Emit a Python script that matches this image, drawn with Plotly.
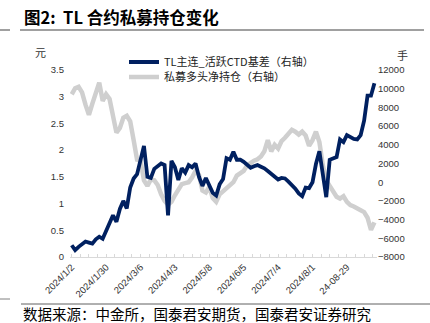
import numpy as np
import pandas as pd
import plotly.graph_objects as go

# ---- calendar (China futures trading days, 2024) ----
holidays = ["2024-02-09", "2024-02-12", "2024-02-13", "2024-02-14", "2024-02-15",
            "2024-02-16", "2024-04-04", "2024-04-05", "2024-05-01", "2024-05-02",
            "2024-05-03", "2024-06-10", "2024-09-16", "2024-09-17"]
trade_days = pd.bdate_range("2024-01-02", "2024-09-24", freq="C", holidays=holidays)
sample_days = trade_days[::2]          # one reading every 2 trading days

tick_dates = ["2024-01-02", "2024-01-30", "2024-03-06", "2024-04-03", "2024-05-08",
              "2024-06-05", "2024-07-04", "2024-08-01", "2024-08-29"]
tick_text = ["2024/1/2", "2024/1/30", "2024/3/6", "2024/4/3", "2024/5/8",
             "2024/6/5", "2024/7/4", "2024/8/1", "24-08-29"]

# ---- series ----
basis = [0.22, 0.13, 0.19, 0.25, 0.29, 0.27, 0.25, 0.33, 0.38, 0.34,
         0.50, 0.62, 0.78, 0.66, 0.90, 1.05, 0.91, 1.30, 1.47, 1.55,
         1.80, 2.08, 1.50, 1.48, 1.65, 1.71, 1.75, 1.72, 0.78, 1.80,
         1.68, 1.44, 1.66, 1.58, 1.72, 1.68, 1.75, 1.50, 1.33, 1.48,
         1.34, 1.20, 1.15, 1.36, 1.46, 1.85, 1.82, 1.97, 1.82, 1.82,
         1.78, 1.72, 1.67, 1.70, 1.72, 1.69, 1.66, 1.61, 1.55, 1.50,
         1.45, 1.48, 1.47, 1.41, 1.35, 1.28, 1.19, 1.14, 1.30, 1.29,
         1.40, 1.74, 1.98, 1.60, 1.12, 1.82, 1.85, 1.87, 2.20, 2.15,
         2.28, 2.25, 2.21, 2.20, 2.28, 2.55, 3.02, 3.02, 3.25]

net_long = [9400, 10050, 10200, 9600, 8300, 7200, 8400, 9500, 10650, 8700,
            9400, 8900, 7100, 5300, 5800, 6900, 7100, 6500, 4500, 2400,
            2300, 200, -400, 300, 200, -300, -1300, -2000, -2400, -2100,
            -1400, -900, -200, -100, 0, 500, 1200, 800, -900, -1100,
            -500, -1700, -2100, -1300, -950, -700, -400, 0, 700, 1000,
            1200, 1800, 2100, 2300, 2450, 2750, 3300, 4500, 3300, 4000,
            3600, 4400, 4750, 5100, 5600, 5400, 5100, 5400, 5000, 3900,
            4500, 5400, 4300, 1800, 200, -400, -1000, -1550, -1750, -1500,
            -2100, -2450, -2600, -2750, -3000, -3200, -3800, -5100, -4300]

x_pos = [trade_days.get_loc(d) for d in sample_days]
tick_pos = [trade_days.get_loc(pd.Timestamp(d)) for d in tick_dates]

NAVY = "#002060"
GRAY = "#cfcfcf"
CJK = "Noto Sans CJK SC"
LAT = "Liberation Sans, Arial, sans-serif"
FW, FH = 430, 323

fig = go.Figure()
fig.add_trace(go.Scatter(x=x_pos, y=net_long, mode="lines", name="私募多头净持仓（右轴）",
                         line=dict(color=GRAY, width=4.5), yaxis="y", legend="legend2",
                         legendrank=2))
fig.add_trace(go.Scatter(x=x_pos, y=basis, mode="lines", name="TL主连_活跃CTD基差（右轴）",
                         line=dict(color=NAVY, width=3.8), yaxis="y2", legend="legend",
                         legendrank=1))

L, R, T, B = 70, 377, 70, 257
W, H = R - L, B - T
def px(xp): return (xp - L) / W
def py(yp): return (B - yp) / H

fig.update_layout(
    width=FW, height=FH,
    margin=dict(l=L, r=FW - R, t=T, b=FH - B),
    paper_bgcolor="white", plot_bgcolor="white",
    xaxis=dict(range=[-1, 177.5], tickvals=tick_pos, ticktext=tick_text, tickangle=-45,
               showgrid=False, zeroline=False, showline=True, linecolor="#d9d9d9",
               linewidth=1, ticks="inside", ticklen=3, tickcolor="#d9d9d9",
               minor=dict(dtick=5, tick0=0, ticks="inside", ticklen=3, tickcolor="#d9d9d9"),
               tickfont=dict(family=LAT, size=9.5, color="#333333")),
    yaxis=dict(range=[-8000, 12000], dtick=2000, side="right", showgrid=False,
               zeroline=False, showline=False, ticks="", tickformat="d",
               tickfont=dict(family=LAT, size=9.5, color="#333333")),
    yaxis2=dict(range=[0, 3.5], dtick=0.5, side="left", overlaying="y", showgrid=False,
                zeroline=False, showline=False, ticks="", ticklabelstandoff=5,
                tickfont=dict(family=LAT, size=9.5, color="#333333")),
    legend=dict(x=px(124), y=py(62), xanchor="left", yanchor="middle",
                bgcolor="rgba(0,0,0,0)", font=dict(family=CJK, size=11, color="#222222")),
    legend2=dict(x=px(124), y=py(77), xanchor="left", yanchor="middle",
                 bgcolor="rgba(0,0,0,0)", font=dict(family=CJK, size=11, color="#222222")),
    showlegend=True,
)

ann = [
    dict(text="<b>图2:  TL 合约私募持仓变化</b>", x=px(22), y=py(17), xanchor="left",
         yanchor="middle", font=dict(family=CJK, size=16.5, color="#000000")),
    dict(text="元", x=px(40), y=py(52), xanchor="center", yanchor="middle",
         font=dict(family=CJK, size=11, color="#333333")),
    dict(text="手", x=px(402), y=py(55), xanchor="center", yanchor="middle",
         font=dict(family=CJK, size=11, color="#333333")),
    dict(text="数据来源：中金所，国泰君安期货，国泰君安证券研究", x=px(21), y=py(313),
         xanchor="left", yanchor="middle", font=dict(family=CJK, size=14.5, color="#000000")),
]
for a in ann:
    a.update(xref="paper", yref="paper", showarrow=False)
fig.update_layout(annotations=ann)

shapes = [
    dict(x0=px(20), x1=px(424), y0=py(30), y1=py(30), line=dict(color="#808080", width=1.5)),
    dict(x0=px(0), x1=px(10), y0=py(30), y1=py(30), line=dict(color="#808080", width=1.5)),
    dict(x0=px(21), x1=px(430), y0=py(304), y1=py(304), line=dict(color="#606060", width=1)),
    dict(x0=px(0), x1=px(10), y0=py(299), y1=py(299), line=dict(color="#808080", width=1)),
]
for s in shapes:
    s.update(type="line", xref="paper", yref="paper")
fig.update_layout(shapes=shapes)

fig.write_html("out.html")
